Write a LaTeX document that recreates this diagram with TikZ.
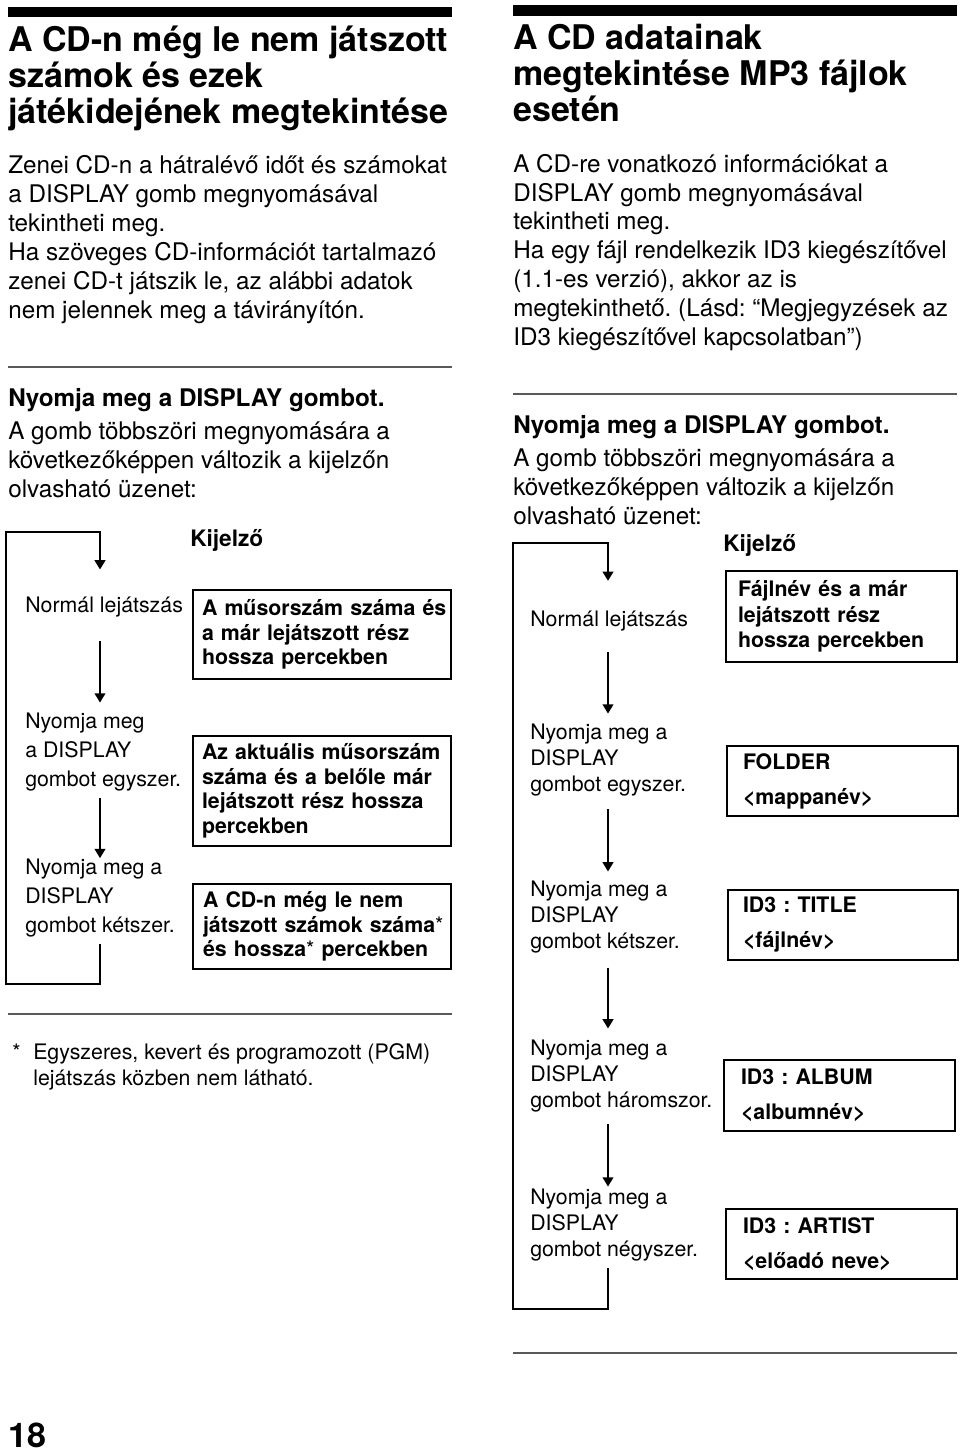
\documentclass[tikz,border=0pt]{standalone}
\usepackage{fontspec}
\setmainfont{TeX Gyre Heros}
\usetikzlibrary{arrows.meta}
\setlength{\lineskiplimit}{-100pt}
\frenchspacing
\newcommand{\pxu}{*0.75pt}
\newcommand{\fnmark}{{\mdseries*}}

\begin{document}
\begin{tikzpicture}[x=0.75pt, y=-0.75pt,
    titleText/.style={anchor=base west, inner sep=0pt, align=left, font=\bfseries\fontsize{25.5}{27}\selectfont},
    bodyText/.style={anchor=base west, inner sep=0pt, align=left, font=\fontsize{18.2}{21.75}\selectfont},
    leadText/.style={anchor=base west, inner sep=0pt, font=\bfseries\fontsize{18.2}{21.75}\selectfont},
    headText/.style={anchor=base west, inner sep=0pt, font=\bfseries\fontsize{17}{20}\selectfont},
    stepText/.style={anchor=base west, inner sep=0pt, align=left, font=\fontsize{16}{#1}\selectfont},
    stepText/.default=21.75,
    displayBox/.style={draw, line width=1.5pt, anchor=north west, inner sep=0pt, align=left, font=\bfseries\fontsize{16}{#1}\selectfont},
    displayBox/.default=18.4,
    boxPad/.style={execute at begin node={\leftskip=#1}},
    stepArrow/.style={-{Triangle[width=8pt,length=7pt]}, line width=1.5pt, shorten <=10pt, shorten >=7pt},
    loopLine/.style={-{Triangle[width=8pt,length=7pt]}, line width=1.7pt},
    sectionRule/.style={line width=1.1pt, draw=black!65},
    headBar/.style={fill=black}
]
    \useasboundingbox (0,0) rectangle (960,1452);

    % left half (multi-line texts sit on their last baseline)
    \fill[headBar] (8,7) rectangle (452,17);
    \node[titleText] (titleL) at (8,124) {A CD-n még le nem játszott\\számok és ezek\\játékidejének megtekintése};
    \node[bodyText]  (introL) at (8,318) {Zenei CD-n a hátralévő időt és számokat\\a DISPLAY gomb megnyomásával\\tekintheti meg.\\Ha szöveges CD-információt tartalmazó\\zenei CD-t játszik le, az alábbi adatok\\nem jelennek meg a távirányítón.};
    \draw[sectionRule] (8,367) -- (452,367);
    \node[leadText]  (pressL) at (8,406) {Nyomja meg a DISPLAY gombot.};
    \node[bodyText]  (howL)   at (8,497) {A gomb többszöri megnyomására a\\következőképpen változik a kijelzőn\\olvasható üzenet:};
    \node[headText]  (kijL)   at (190,546) {Kijelző};

    \node[stepText] (stepL0) at (25,612) {Normál lejátszás};
    \node[stepText] (stepL1) at (25,786) {Nyomja meg\\a DISPLAY\\gombot egyszer.};
    \node[stepText] (stepL2) at (25,932) {Nyomja meg a\\DISPLAY\\gombot kétszer.};

    \node[displayBox, boxPad=6.75pt, text width=258\pxu, minimum height=89\pxu]  (dispL0) at (192,589) {A műsorszám száma és\\a már lejátszott rész\\hossza percekben};
    \node[displayBox, boxPad=6.75pt, text width=258\pxu, minimum height=110\pxu] (dispL1) at (192,735) {Az aktuális műsorszám\\száma és a belőle már\\lejátszott rész hossza\\percekben};
    \node[displayBox, boxPad=7.5pt, text width=258\pxu, minimum height=85\pxu]   (dispL2) at (192,883) {A CD-n még le nem\\játszott számok száma\fnmark\\és hossza\fnmark{} percekben};

    \coordinate (loopTopL) at (6,532);
    \coordinate (loopBotL) at (6,984);
    \coordinate (colL)     at (100,532);

    \draw[stepArrow, shorten <=18.4pt, shorten >=7.2pt] (stepL0.south -| colL) -- (stepL1.north -| colL);
    \draw[stepArrow, shorten <=5.6pt, shorten >=0pt]    (stepL1.south -| colL) -- (stepL2.north -| colL);
    \draw[loopLine, shorten <=5pt, shorten >=20pt] (stepL2.south -| colL) -- (colL |- loopBotL) -- (loopBotL) -- (loopTopL) -- (colL) -- (stepL0.north -| colL);

    \draw[sectionRule] (8,1014) -- (452,1014);
    \node[bodyText, font=\fontsize{16}{19.5}\selectfont] (fnStar) at (12,1059) {*};
    \node[bodyText, font=\fontsize{16}{19.5}\selectfont] (fnText) at (33,1085) {Egyszeres, kevert és programozott (PGM)\\lejátszás közben nem látható.};

    \node[titleText] (pageNo) at (8,1447) {18};

    % right half
    \fill[headBar] (513,5) rectangle (957,16);
    \node[titleText] (titleR) at (513,122) {A CD adatainak\\megtekintése MP3 fájlok\\esetén};
    \node[bodyText, font=\fontsize{18.2}{21.6}\selectfont] (introR) at (513,345) {A CD-re vonatkozó információkat a\\DISPLAY gomb megnyomásával\\tekintheti meg.\\Ha egy fájl rendelkezik ID3 kiegészítővel\\(1.1-es verzió), akkor az is\\megtekinthető. (Lásd: “Megjegyzések az\\ID3 kiegészítővel kapcsolatban”)};
    \draw[sectionRule] (513,394) -- (957,394);
    \node[leadText]  (pressR) at (513,433) {Nyomja meg a DISPLAY gombot.};
    \node[bodyText]  (howR)   at (513,524) {A gomb többszöri megnyomására a\\következőképpen változik a kijelzőn\\olvasható üzenet:};
    \node[headText]  (kijR)   at (723,551) {Kijelző};

    \node[stepText=19.5] (stepR0) at (530,626)  {Normál lejátszás};
    \node[stepText=19.5] (stepR1) at (530,791)  {Nyomja meg a\\DISPLAY\\gombot egyszer.};
    \node[stepText=19.5] (stepR2) at (530,948)  {Nyomja meg a\\DISPLAY\\gombot kétszer.};
    \node[stepText=19.5] (stepR3) at (530,1107) {Nyomja meg a\\DISPLAY\\gombot háromszor.};
    \node[stepText=19.5] (stepR4) at (530,1256) {Nyomja meg a\\DISPLAY\\gombot négyszer.};

    \node[displayBox=19, boxPad=9pt, text width=231\pxu, minimum height=91\pxu]      (dispR0) at (725,570)  {Fájlnév és a már\\lejátszott rész\\hossza percekben};
    \node[displayBox=26.25, boxPad=12pt, text width=231\pxu, minimum height=70\pxu]  (dispR1) at (726,745)  {FOLDER\\<mappanév>};
    \node[displayBox=26.25, boxPad=11.25pt, text width=230\pxu, minimum height=70\pxu] (dispR2) at (727,889) {ID3 : TITLE\\<fájlnév>};
    \node[displayBox=26.25, boxPad=12.75pt, text width=231\pxu, minimum height=71\pxu] (dispR3) at (723,1059) {ID3 : ALBUM\\<albumnév>};
    \node[displayBox=26.25, boxPad=12.75pt, text width=231\pxu, minimum height=70\pxu] (dispR4) at (725,1208) {ID3 : ARTIST\\<előadó neve>};

    \coordinate (loopTopR) at (513,543);
    \coordinate (loopBotR) at (513,1309);
    \coordinate (colR)     at (608,543);

    \draw[stepArrow, shorten <=16pt, shorten >=7.2pt] (stepR0.south -| colR) -- (stepR1.north -| colR);
    \draw[stepArrow, shorten <=10pt, shorten >=6.5pt] (stepR1.south -| colR) -- (stepR2.north -| colR);
    \draw[stepArrow, shorten <=11pt, shorten >=8pt]   (stepR2.south -| colR) -- (stepR3.north -| colR);
    \draw[stepArrow, shorten <=9.4pt, shorten >=1.2pt] (stepR3.south -| colR) -- (stepR4.north -| colR);
    \draw[loopLine, shorten <=5.6pt, shorten >=22pt] (stepR4.south -| colR) -- (colR |- loopBotR) -- (loopBotR) -- (loopTopR) -- (colR) -- (stepR0.north -| colR);

    \draw[sectionRule] (513,1353) -- (957,1353);
\end{tikzpicture}
\end{document}
